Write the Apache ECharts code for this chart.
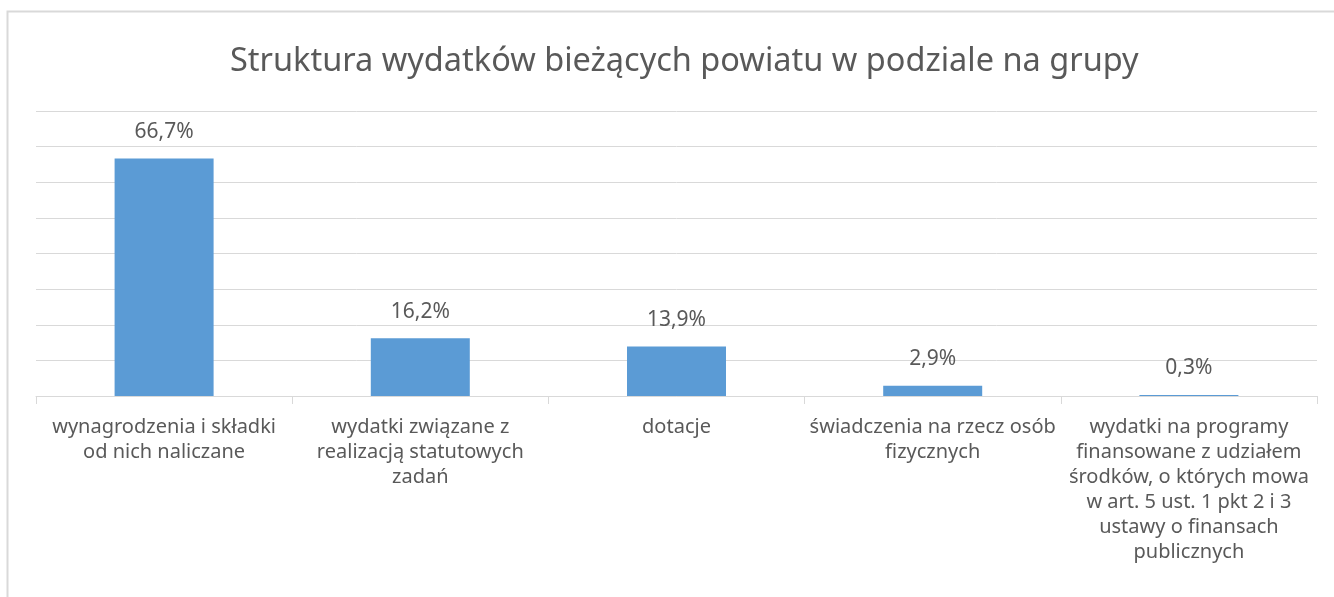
<!DOCTYPE html>
<html lang="pl">
<head>
    <meta charset="UTF-8">
    <title>Struktura wydatków</title>
    <script src="https://cdn.jsdelivr.net/npm/echarts@6/dist/echarts.min.js"></script>
    <style>
        *{
            margin:0;
            padding:0;
        }
        body {
            background:#fff;
        }
        #main {
            width:1334px;
            height:597px;
        }
    </style>
</head>
<body>
<div id="main"></div>
<script>
    var titleText = 'Struktura wydatków bieżących powiatu w podziale na grupy';
    var categories = [
        'wynagrodzenia i składki\nod nich naliczane',
        'wydatki związane z\nrealizacją statutowych\nzadań',
        'dotacje',
        'świadczenia na rzecz osób\nfizycznych',
        'wydatki na programy\nfinansowane z udziałem\nśrodków, o których mowa\nw art. 5 ust. 1 pkt 2 i 3\nustawy o finansach\npublicznych'
    ];
    var values = [66.7, 16.2, 13.9, 2.9, 0.3];

    var chart = echarts.init(document.getElementById('main'));

    var option = {
        animation: false,
        textStyle: {
            fontFamily: 'Noto Sans'
        },
        title: {
            text: titleText,
            left: 225,
            top: 40,
            textStyle: {
                fontFamily: 'Noto Sans',
                fontSize: 32.5,
                fontWeight: 'normal',
                color: '#595959'
            }
        },
        graphic: [
            {
                type: 'rect',
                shape: { x: 7.5, y: 11.5, width: 1400, height: 700 },
                style: { fill: 'none', stroke: '#d9d9d9', lineWidth: 2 },
                silent: true
            }
        ],
        grid: {
            left: 36,
            right: 17,
            top: 111,
            bottom: 201
        },
        xAxis: {
            type: 'category',
            data: categories,
            axisLine: {
                lineStyle: { color: '#d9d9d9', width: 1 }
            },
            axisTick: {
                show: true,
                length: 8,
                lineStyle: { color: '#d9d9d9' }
            },
            axisLabel: {
                interval: 0,
                margin: 19,
                fontSize: 20,
                lineHeight: 25,
                color: '#595959',
                fontFamily: 'Noto Sans'
            }
        },
        yAxis: {
            type: 'value',
            min: 0,
            max: 80,
            interval: 10,
            axisLine: { show: false },
            axisTick: { show: false },
            axisLabel: { show: false },
            splitLine: {
                lineStyle: { color: '#d9d9d9', width: 1 }
            }
        },
        series: [
            {
                type: 'bar',
                data: values,
                barWidth: 99,
                itemStyle: { color: '#5b9bd5' },
                label: {
                    show: true,
                    position: 'top',
                    distance: 16,
                    fontSize: 21,
                    color: '#595959',
                    fontFamily: 'Noto Sans',
                    formatter: function (p) {
                        return p.value.toFixed(1).replace('.', ',') + '%';
                    }
                }
            }
        ]
    };

    chart.setOption(option);
</script>
</body>
</html>
